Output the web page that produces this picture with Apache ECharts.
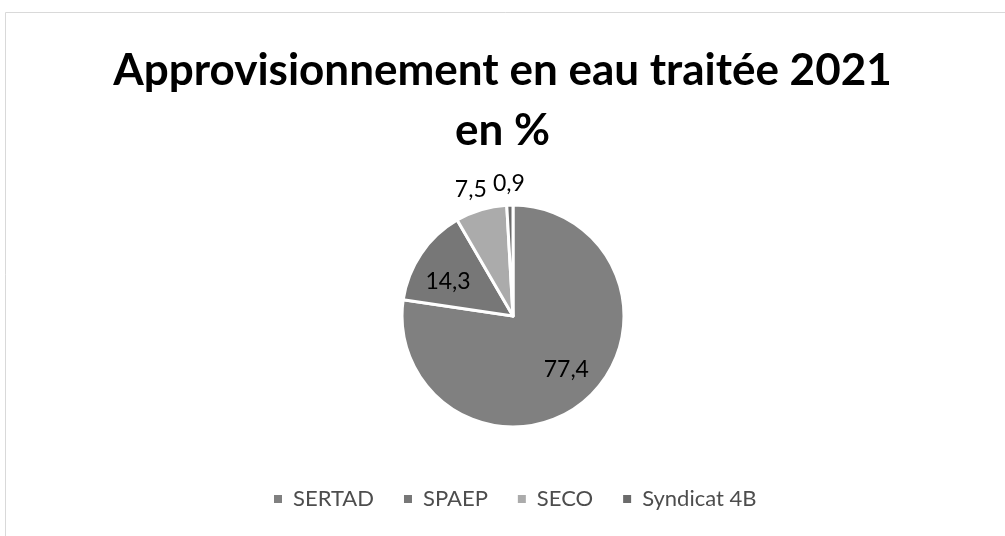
<!DOCTYPE html>
<html>
<head>
<meta charset="utf-8">
<script src="https://cdn.jsdelivr.net/npm/echarts@6/dist/echarts.min.js"></script>
<style>
  html, body { margin: 0; padding: 0; background: #fff; }
  #chart { width: 1005px; height: 536px; }
</style>
</head>
<body>
<div id="chart"></div>
<script>
// données
const categories = ['SERTAD', 'SPAEP', 'SECO', 'Syndicat 4B'];
const values = [77.4, 14.3, 7.5, 0.9];
const colors = ['#808080', '#777777', '#ababab', '#6b6b6b'];

const cx = 513, cy = 316, R = 111;

const chart = echarts.init(document.getElementById('chart'));

chart.setOption({
  animation: false,
  backgroundColor: '#fff',
  color: colors,
  graphic: [{
    type: 'rect',
    shape: { x: 5.5, y: 12.5, width: 1020, height: 600 },
    style: { fill: 'none', stroke: '#d9d9d9', lineWidth: 1 },
    silent: true
  }],
  title: {
    text: 'Approvisionnement en eau traitée 2021\nen %',
    left: 'center',
    top: 36,
    textStyle: {
      fontFamily: 'Lato',
      fontWeight: 'bold',
      fontSize: 44,
      lineHeight: 60,
      color: '#000'
    }
  },
  legend: {
    bottom: 21,
    left: 267,
    icon: 'rect',
    itemWidth: 10,
    itemHeight: 10,
    itemGap: 28,
    data: categories,
    textStyle: {
      fontFamily: 'Lato',
      fontSize: 22,
      color: '#4d4d4d',
      padding: [0, 0, 0, 5]
    }
  },
  series: [{
    type: 'pie',
    center: [cx, cy],
    radius: R,
    startAngle: 90,
    clockwise: true,
    itemStyle: { borderColor: '#fff', borderWidth: 3 },
    label: {
      show: true,
      position: 'inside',
      formatter: p => String(p.value).replace('.', ','),
      fontFamily: 'Lato',
      fontSize: 23,
      color: '#000'
    },
    labelLine: { show: false },
    emphasis: { disabled: true },
    labelLayout: function (params) {
      const r = params.labelRect;
      const lx = r.x + r.width / 2, ly = r.y + r.height / 2;
      let ang = Math.atan2(lx - cx, -(ly - cy));
      const v = values[params.dataIndex];
      let tx, ty;
      if (v >= 10) {
        // étiquettes intérieures, un peu tournées comme dans Excel
        ang -= 5 * Math.PI / 180;
        const d = R * 0.67;
        tx = cx + d * Math.sin(ang);
        ty = cy - d * Math.cos(ang);
      } else {
        // étiquettes extérieures, au-dessus du camembert
        const ux = Math.sin(ang), uy = -Math.cos(ang);
        const d = 134;
        tx = cx + d * ux + Math.sign(ux) * r.width * Math.abs(ux) * 0.4;
        ty = cy + d * uy;
      }
      return { dx: tx - lx, dy: ty - ly + 2 };
    },
    data: categories.map((c, i) => ({ name: c, value: values[i] }))
  }]
});
</script>
</body>
</html>
